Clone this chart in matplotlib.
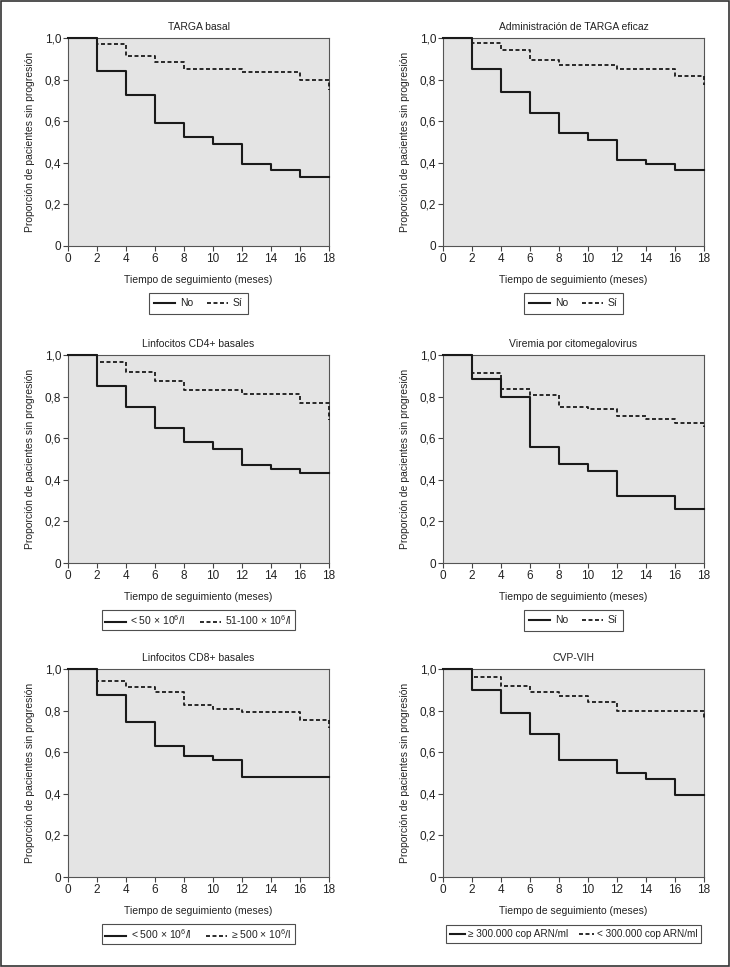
import matplotlib
matplotlib.use("Agg")
import matplotlib.pyplot as plt
from matplotlib.patches import Rectangle

plt.rcParams['font.family'] = ['Liberation Sans', 'DejaVu Sans']
plt.rcParams['font.size'] = 7.5
plt.rcParams['mathtext.fontset'] = 'custom'
plt.rcParams['mathtext.rm'] = 'Liberation Sans'
plt.rcParams['mathtext.it'] = 'Liberation Sans'
plt.rcParams['mathtext.bf'] = 'Liberation Sans'

titles = ["TARGA basal", "Administración de TARGA eficaz",
          "Linfocitos CD4+ basales", "Viremia por citomegalovirus",
          "Linfocitos CD8+ basales", "CVP-VIH"]

labels = [("No", "Sí"), ("No", "Sí"),
          ("< 50 × $10^{6}$/l", "51-100 × $10^{6}$/l"), ("No", "Sí"),
          ("< 500 × $10^{6}$/l", "≥ 500 × $10^{6}$/l"),
          ("≥ 300.000 cop ARN/ml", "< 300.000 cop ARN/ml")]

# solid curves (first group)
t_a = [[0, 2, 4, 6, 8, 10, 12, 14, 16, 18],
       [0, 2, 4, 6, 8, 10, 12, 14, 16, 18],
       [0, 2, 4, 6, 8, 10, 12, 14, 16, 18],
       [0, 2, 4, 6, 8, 10, 12, 16, 18],
       [0, 2, 4, 6, 8, 10, 12, 18],
       [0, 2, 4, 6, 8, 12, 14, 16, 18]]
s_a = [[1.0, 0.84, 0.725, 0.59, 0.525, 0.49, 0.395, 0.365, 0.333, 0.333],
       [1.0, 0.85, 0.742, 0.638, 0.542, 0.51, 0.414, 0.394, 0.363, 0.363],
       [1.0, 0.851, 0.749, 0.648, 0.581, 0.549, 0.472, 0.451, 0.432, 0.432],
       [1.0, 0.883, 0.80, 0.558, 0.478, 0.442, 0.32, 0.261, 0.261],
       [1.0, 0.877, 0.745, 0.631, 0.58, 0.561, 0.479, 0.479],
       [1.0, 0.901, 0.79, 0.686, 0.564, 0.5, 0.471, 0.394, 0.394]]

# dashed curves (second group)
t_b = [[0, 2, 4, 6, 8, 12, 16, 18],
       [0, 2, 4, 6, 8, 12, 16, 18],
       [0, 2, 4, 6, 8, 12, 16, 18],
       [0, 2, 4, 6, 8, 10, 12, 14, 16, 18],
       [0, 2, 4, 6, 8, 10, 12, 16, 18],
       [0, 2, 4, 6, 8, 10, 12, 18]]
s_b = [[1.0, 0.97, 0.915, 0.883, 0.85, 0.835, 0.80, 0.75],
       [1.0, 0.974, 0.941, 0.893, 0.87, 0.85, 0.819, 0.776],
       [1.0, 0.968, 0.917, 0.877, 0.834, 0.813, 0.77, 0.688],
       [1.0, 0.914, 0.838, 0.81, 0.752, 0.742, 0.709, 0.694, 0.672, 0.653],
       [1.0, 0.944, 0.915, 0.888, 0.827, 0.808, 0.792, 0.756, 0.716],
       [1.0, 0.963, 0.918, 0.891, 0.872, 0.843, 0.80, 0.756]]

x_ticks = list(range(0, 19, 2))
y_ticks = [0, 0.2, 0.4, 0.6, 0.8, 1.0]
y_ticklabels = ["0", "0,2", "0,4", "0,6", "0,8", "1,0"]

W, H = 730, 967
fig = plt.figure(figsize=(W / 100, H / 100), dpi=100)

lefts = [68, 443]
tops = [38, 355, 669]
aw, ah = 261, 208

for i in range(6):
    r, c = divmod(i, 2)
    ax = fig.add_axes([lefts[c] / W, 1 - (tops[r] + ah) / H, aw / W, ah / H])
    ax.set_facecolor('#e4e4e4')
    ax.step(t_a[i], s_a[i], where='post', color='#1a1a1a', lw=1.5,
            label=labels[i][0], clip_on=False, zorder=3)
    ax.step(t_b[i], s_b[i], where='post', color='#1a1a1a', lw=1.3,
            linestyle=(0, (2.2, 1.4)), label=labels[i][1], clip_on=False, zorder=3)
    ax.set_xlim(0, 18)
    ax.set_ylim(0, 1.0)
    ax.set_xticks(x_ticks)
    ax.set_yticks(y_ticks)
    ax.set_yticklabels(y_ticklabels)
    ax.tick_params(direction='out', length=3.5, width=0.8, color='#444444',
                   labelcolor='#222222', labelsize=8.5, pad=1.5)
    for sp in ax.spines.values():
        sp.set_color('#555555')
        sp.set_linewidth(0.8)
    ax.set_title(titles[i], fontsize=7.5, color='#222222', pad=6)
    ax.set_xlabel("Tiempo de seguimiento (meses)", fontsize=7.5, color='#222222', labelpad=7)
    ax.set_ylabel("Proporción de pacientes sin progresión", fontsize=7.5, color='#222222', labelpad=7)
    if i == 5:
        opts = dict(fontsize=7.2, handlelength=1.5, columnspacing=1.1, borderpad=0.4,
                    handletextpad=0.3)
    elif i in (2, 4):
        opts = dict(fontsize=7.5, handlelength=2.0, columnspacing=1.4, borderpad=0.3,
                    handletextpad=0.45)
    else:
        opts = dict(fontsize=7.5, handlelength=2.0, columnspacing=1.4, borderpad=0.5,
                    handletextpad=0.45)
    leg = ax.legend(loc='center', bbox_to_anchor=(0.5, -0.276), ncol=2, frameon=True,
                    fancybox=False, edgecolor='#222222', **opts)
    leg.get_frame().set_linewidth(0.8)
    for t in leg.get_texts():
        t.set_color('#222222')

fig.add_artist(Rectangle((0.001, 0.001), 0.998, 0.998, transform=fig.transFigure,
                         fill=False, edgecolor='#333333', lw=1.2))

fig.savefig("out.png", dpi=100)
